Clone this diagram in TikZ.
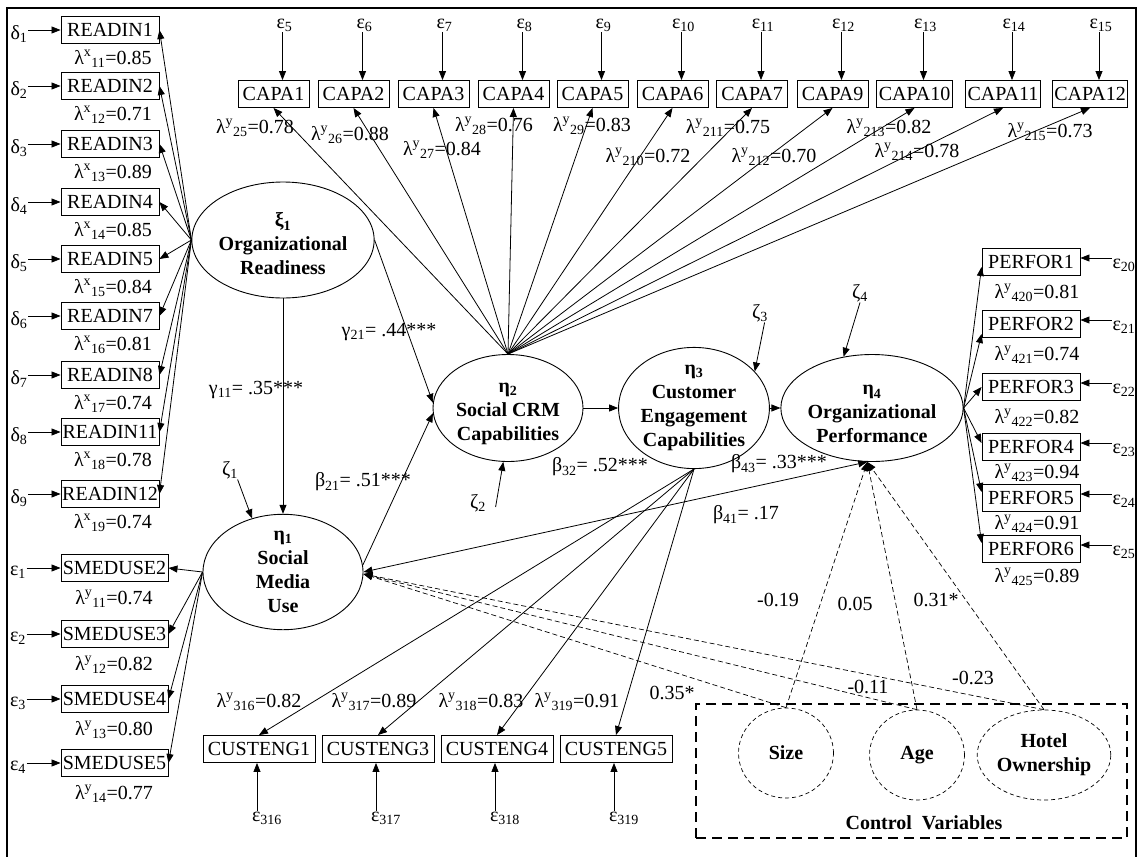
\documentclass[tikz,border=0pt]{standalone}
\usepackage{fontspec}
\setmainfont{Liberation Serif}
\usetikzlibrary{arrows.meta,shapes.geometric}
\tikzset{
  obs/.style={draw, line width=0.9pt, inner xsep=2pt, inner ysep=0pt, minimum height=27pt},
  lat/.style={draw, ellipse, line width=0.9pt, inner sep=0pt, align=center, font=\bfseries\fontsize{20}{24}\selectfont},
  ctl/.style={draw, ellipse, line width=0.7pt, dash pattern=on 4pt off 3pt, inner sep=0pt, minimum width=95pt, minimum height=90pt, align=center, font=\bfseries\fontsize{20}{24}\selectfont},
  lab/.style={inner sep=0.5pt},
  arr/.style={-{Triangle[length=9pt,width=7pt]}, line width=0.8pt},
  darr/.style={-{Triangle[length=9pt,width=7pt]}, line width=0.7pt, dash pattern=on 5pt off 3pt},
  barr/.style={{Triangle[length=9pt,width=7pt]}-{Triangle[length=9pt,width=7pt]}, line width=0.8pt},
  ctlbox/.style={draw, line width=2.2pt, dash pattern=on 10pt off 6pt, inner sep=0pt, minimum width=431pt, minimum height=134pt},
  frame/.style={line width=2pt}
}
\newcommand{\tstrut}{\rule{0pt}{22pt}}
\begin{document}
\begin{tikzpicture}[x=1pt,y=-1pt, every node/.style={font=\fontsize{20}{24}\selectfont}]
\useasboundingbox (0,0) rectangle (1141,857);
\draw[frame] (7,860) -- (7,8) -- (1136,8) -- (1136,860);

% latent variables
\node[lat, minimum width=160pt, minimum height=116pt] (xi1) at (283,240) {\tstrut ξ\textsubscript{1}\\Organizational\\Readiness};
\node[lat, minimum width=160pt, minimum height=114pt] (eta1) at (283,572) {η\textsubscript{1}\\Social\\Media\\Use};
\node[lat, minimum width=150pt, minimum height=107pt] (eta2) at (508,408) {\tstrut η\textsubscript{2}\\Social CRM\\Capabilities};
\node[lat, minimum width=150pt, minimum height=107pt] (eta3) at (694,408) {η\textsubscript{3}\\Customer\\Engagement\\Capabilities};
\node[lat, minimum width=150pt, minimum height=107pt] (eta4) at (872,408) {\tstrut η\textsubscript{4}\\Organizational\\Performance};

% READIN indicators
\foreach \n/\t/\y/\s/\v/\d in {r1/READIN1/30/11/0.85/1, r2/READIN2/86/12/0.71/2, r3/READIN3/144/13/0.89/3, r4/READIN4/202/14/0.85/4, r5/READIN5/259/15/0.84/5, r7/READIN7/316/16/0.81/6, r8/READIN8/375/17/0.74/7, r11/READIN11/432/18/0.78/8, r12/READIN12/494/19/0.74/9}{
  \node[obs, minimum width=98pt, inner xsep=1pt] (\n) at (110,\y) {\t};
  \node[lab] (l\n) at (113,\y+29) {λ\textsuperscript{x}\textsubscript{\s}=\v};
  \node[lab] (d\n) at (19,\y+4) {δ\textsubscript{\d}};
  \draw[arr] (d\n.east |- \n.west) -- (\n.west);
  \draw[arr] (xi1.west) -- (\n.east);
}

% SMEDUSE indicators
\foreach \n/\t/\y/\s/\v/\d in {s2/SMEDUSE2/568/11/0.74/1, s3/SMEDUSE3/634/12/0.82/2, s4/SMEDUSE4/699/13/0.80/3, s5/SMEDUSE5/763/14/0.77/4}{
  \node[obs, minimum width=107pt, inner xsep=1pt] (\n) at (114.5,\y) {\t};
  \node[lab] (l\n) at (114,\y+31) {λ\textsuperscript{y}\textsubscript{\s}=\v};
  \node[lab] (d\n) at (18,\y+4) {ε\textsubscript{\d}};
  \draw[arr] (d\n.east |- \n.west) -- (\n.west);
  \draw[arr] (eta1.west) -- (\n.east);
}

% CAPA indicators
\foreach \n/\t/\x/\e/\s/\v/\lx/\ly in {c1/CAPA1/273.5/5/25/0.78/255/128, c2/CAPA2/353.5/6/26/0.88/350/135, c3/CAPA3/433.5/7/27/0.84/442/150, c4/CAPA4/513.5/8/28/0.76/494/126, c5/CAPA5/592.5/9/29/0.83/592/126, c6/CAPA6/672.5/10/210/0.72/648/157, c7/CAPA7/752/11/211/0.75/728/128, c9/CAPA9/832.5/12/212/0.70/774/157, c10/CAPA10/914.5/13/213/0.82/889/128, c11/CAPA11/1003/14/214/0.78/917/152, c12/CAPA12/1090/15/215/0.73/1050/132}{
  \node[obs, minimum width=71pt] (\n) at (\x,94) {\t};
  \node[lab] (e\n) at (\x+11,25) {ε\textsubscript{\e}};
  \node[lab] (l\n) at (\lx,\ly) {λ\textsuperscript{y}\textsubscript{\s}=\v};
  \draw[arr] ([xshift=9pt]\n.north |- e\n.south) -- ([xshift=9pt]\n.north);
  \draw[arr] (eta2.north) -- (\n.south);
}

% CUSTENG indicators
\foreach \n/\t/\x/\s/\v/\lx in {u1/CUSTENG1/259/316/0.82/259, u3/CUSTENG3/378/317/0.89/374, u4/CUSTENG4/497/318/0.83/481, u5/CUSTENG5/616/319/0.91/577}{
  \node[obs, minimum width=112pt] (\n) at (\x,749) {\t};
  \node[lab] (e\n) at (\x+8,818) {ε\textsubscript{\s}};
  \node[lab] (l\n) at (\lx,702) {λ\textsuperscript{y}\textsubscript{\s}=\v};
  \draw[arr] ([xshift=-2pt]\n.south |- e\n.north) -- ([xshift=-2pt]\n.south);
  \draw[arr] (eta3.south) -- (\n.north);
}

% PERFOR indicators
\foreach \n/\t/\y/\e/\s/\v/\ly/\o in {p1/PERFOR1/262/20/420/0.81/293/-5, p2/PERFOR2/324/21/421/0.74/355/-10, p3/PERFOR3/387/22/422/0.82/418/0, p4/PERFOR4/447/23/423/0.94/473/4, p5/PERFOR5/498/24/424/0.91/524/6, p6/PERFOR6/549/25/425/0.89/577/6}{
  \node[obs, minimum width=98pt] (\n) at (1031,\y) {\t};
  \node[lab] (e\n) at (1124,\y+3) {ε\textsubscript{\e}};
  \node[lab] (l\n) at (1037,\ly) {λ\textsuperscript{y}\textsubscript{\s}=\v};
  \draw[arr] ([yshift=4pt]\n.east -| e\n.west) -- ([yshift=4pt]\n.east);
  \draw[arr] (eta4.east) -- ([yshift=\o pt]\n.west);
}

% structural paths
\draw[arr] (xi1.south) -- (eta1.north);
\draw[arr] (xi1.east) -- (eta2.176);
\draw[arr] (eta1.5) -- (eta2.184);
\draw[arr] (eta2.east) -- (eta3.west);
\draw[arr] (eta3.east) -- (eta4.west);
\draw[barr] (eta1.east) -- (eta4.265);

% disturbances
\node[lab] (z1) at (230,470) {ζ\textsubscript{1}};
\node[lab] (z2) at (478,503) {ζ\textsubscript{2}};
\node[lab] (z3) at (760,313) {ζ\textsubscript{3}};
\node[lab] (z4) at (860,293) {ζ\textsubscript{4}};
\draw[arr] ([xshift=-1pt]z1.south east) -- (eta1.120);
\draw[arr] ([xshift=9pt,yshift=-4pt]z2.east) -- (eta2.265);
\draw[arr] ([xshift=-4pt]z3.south east) -- (eta3.31);
\draw[arr] (z4.south) -- (eta4.119);

% path labels
\node[lab] (g21) at (389,332) {γ\textsubscript{21}= .44***};
\node[lab] (g11) at (256,390) {γ\textsubscript{11}= .35***};
\node[lab] (b21) at (363,482) {β\textsubscript{21}= .51***};
\node[lab] (b32) at (600,467) {β\textsubscript{32}= .52***};
\node[lab] (b43) at (779,464) {β\textsubscript{43}= .33***};
\node[lab] (b41) at (746,515) {β\textsubscript{41}= .17};

% control variables
\node[ctlbox] (ctrl) at (911.5,771) {};
\node[ctl] (size) at (786,753) {Size};
\node[ctl] (age) at (917,755) {Age};
\node[ctl] (own) at (1044,755) {Hotel\\Ownership};
\node[lab, font=\bfseries\fontsize{20}{24}\selectfont] (cvlab) at (924,823) {Control\ \ Variables};

\draw[darr] (size.north) -- (eta4.265);
\draw[darr] (age.north) -- (eta4.265);
\draw[darr] (own.north) -- (eta4.265);
\draw[darr] (size.north) -- ([yshift=-2pt]eta1.east);
\draw[darr] (age.north) -- ([yshift=-2pt]eta1.east);
\draw[darr] (own.north) -- ([yshift=-2pt]eta1.east);

\node[lab] (cs4) at (778,600) {-0.19};
\node[lab] (ca4) at (855,604) {0.05};
\node[lab] (co4) at (936,600) {0.31*};
\node[lab] (cs1) at (672,693) {0.35*};
\node[lab] (ca1) at (868,687) {-0.11};
\node[lab] (co1) at (973,678) {-0.23};
\end{tikzpicture}
\end{document}
